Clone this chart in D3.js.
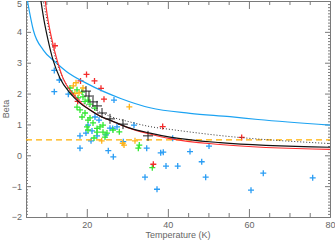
<!DOCTYPE html>
<html>
<head>
<meta charset="utf-8">
<script src="https://cdn.jsdelivr.net/npm/d3@7"></script>
<style>
  body { margin: 0; background: #fff; }
  text { font-family: "Liberation Sans", Arial, sans-serif; }
</style>
</head>
<body>
<div id="chart"></div>
<script>
// fitted curves as [T, beta]
var blueCurve = [[5.32, 5.03], [6.8, 4.06], [9.27, 3.41], [12.15, 3.03], [15.04, 2.71], [19.97, 2.33],
    [28.19, 1.85], [35.59, 1.54], [45.46, 1.36], [55.33, 1.25], [62.24, 1.16], [80, 0.98]];
var blackCurve = [[8.63, 5.05], [9.44, 4.38], [10.43, 3.74], [11.66, 3.09], [13.39, 2.5], [15.85, 2.02],
    [18.32, 1.69], [20.79, 1.47], [23.26, 1.27], [25.72, 1.14], [30.66, 0.88], [35.59, 0.72],
    [40.52, 0.59], [52.86, 0.41], [80, 0.26]];
var redCurve = [[9.69, 5.05], [10.43, 4.38], [11.41, 3.74], [12.65, 3.09], [14.13, 2.5], [16.35, 2.02],
    [18.82, 1.66], [21.28, 1.43], [23.75, 1.24], [26.22, 1.11], [30.66, 0.87], [35.59, 0.69],
    [40.52, 0.54], [52.86, 0.35], [80, 0.19]];
var dottedCurve = [[9.19, 5.05], [10.18, 4.38], [11.17, 3.74], [12.4, 3.09], [14.13, 2.5], [16.35, 2.05],
    [18.82, 1.73], [21.28, 1.53], [23.75, 1.37], [26.22, 1.24], [30.66, 1.08], [35.59, 0.93],
    [40.52, 0.84], [52.86, 0.64], [80, 0.38]];
var betaLevel = 0.5;

// measured points [T, beta]
var bluePts = [[11.98, 2.75], [13.22, 2.44], [11.98, 2.06], [15.44, 1.98], [18.32, 0.63], [18.32, 0.23],
    [25.3, 0.15], [26.54, -0.05], [29.0, 0.44], [34.78, 0.23], [38.23, 0.08], [38.87, 0.1],
    [45.46, 0.12], [48.35, -0.21], [50.15, 0.3], [39.54, -0.35], [42.43, -0.35], [34.36, -0.71],
    [49.33, -0.71], [37.32, -1.1], [41.19, 0.55], [31.64, 0.98], [26.39, 0.87], [63.54, -0.58],
    [60.51, -1.13], [75.73, -0.73], [26.71, 1.79], [24.74, 0.66], [20.3, 0.98], [21.28, 0.79],
    [22.52, 0.63], [23.01, 1.14], [22.02, 1.24], [19.8, 0.72], [21.04, 0.47], [25.72, 0.88],
    [27.45, 0.92]];
var greenPts = [[15.86, 2.18], [16.35, 2.02], [17.58, 2.12], [18.82, 2.05], [19.06, 1.89], [20.3, 1.79],
    [17.58, 1.56], [18.32, 1.47], [19.56, 1.37], [18.82, 1.24], [20.79, 1.21], [21.53, 1.05],
    [20.05, 0.92], [23.26, 0.92], [22.52, 0.75], [24.0, 0.75], [24.49, 0.59], [20.3, 1.14],
    [20.3, 0.82], [22.52, 0.87], [24.98, 0.72], [24.0, 0.98], [26.46, 0.82], [28.02, 0.76],
    [32.95, 0.33], [32.71, 0.23], [36.16, -0.4], [20.79, 1.66], [22.02, 1.53], [19.56, 1.75],
    [17.83, 1.86], [21.78, 0.56]];
var orangePts = [[30.49, 1.57], [28.86, 0.39], [31.89, 0.47], [29.18, 0.33], [17.34, 2.35], [16.67, 2.25],
    [19.06, 2.18], [18.08, 2.02], [17.09, 2.0], [23.68, 0.47]];
var redPts = [[12.15, 3.55], [19.93, 2.62], [21.9, 2.41], [18.45, 2.41], [23.5, 2.17], [24.24, 1.82],
    [38.72, 0.93], [36.41, -0.29], [58.21, 0.58], [17.75, 1.75]];
var blackPts = [[19.8, 2.08], [20.54, 1.92], [21.53, 1.73], [22.52, 1.6], [23.75, 1.37], [25.72, 1.18],
    [28.93, 1.01], [35.1, 0.63]];

var xMajor = [20, 40, 60, 80];
var yMajor = [-2, -1, 0, 1, 2, 3, 4, 5];

var width = 335, height = 240;
var margin = {top: 1, right: 5, bottom: 23, left: 26};
var axisColor = "#7a7a7a";

var svg = d3.select("#chart").append("svg")
    .attr("width", width)
    .attr("height", height);

var x = d3.scaleLinear().domain([5, 80]).range([margin.left, width - margin.right]);
var y = d3.scaleLinear().domain([-2, 5]).range([height - margin.bottom, margin.top]);

svg.append("clipPath").attr("id", "plot")
    .append("rect")
    .attr("x", x(5)).attr("y", y(5))
    .attr("width", x(80) - x(5)).attr("height", y(-2) - y(5));

var xMinor = d3.range(5, 80.01, 5).filter(function (d) { return xMajor.indexOf(d) < 0; });
var yMinor = d3.range(-20, 50.5, 1).map(function (d) { return d / 10; })
    .filter(function (d) { return yMajor.indexOf(d) < 0; });

// axes, ticks pointing inward on all four sides
var drawAxis = function (axisFn, scale, pos, vals, size, labels) {
    var g = svg.append("g")
        .attr("transform", pos)
        .call(axisFn(scale).tickValues(vals).tickSizeInner(-size).tickSizeOuter(0)
            .tickPadding(5)
            .tickFormat(labels ? function (d) { return d < 0 ? "\u2212" + Math.abs(d) : d; } : ""));
    g.select(".domain").attr("stroke", axisColor);
    g.selectAll(".tick line").attr("stroke", axisColor);
    g.selectAll(".tick text").attr("fill", "#666").attr("font-size", 9);
    return g;
};

drawAxis(d3.axisBottom, x, "translate(0," + y(-2) + ")", xMinor, 4, false);
drawAxis(d3.axisBottom, x, "translate(0," + y(-2) + ")", xMajor, 8, true);
drawAxis(d3.axisTop, x, "translate(0," + y(5) + ")", xMinor, 4, false);
drawAxis(d3.axisTop, x, "translate(0," + y(5) + ")", xMajor, 8, false);
drawAxis(d3.axisLeft, y, "translate(" + x(5) + ",0)", yMinor, 2, false);
var yLabels = drawAxis(d3.axisLeft, y, "translate(" + x(5) + ",0)", yMajor, 5, true);
yLabels.selectAll(".tick text").attr("x", -4);
// top label would stick out of the window, nudge it down like the original
yLabels.selectAll(".tick text").filter(function (d) { return d === 5; }).attr("y", 3);
drawAxis(d3.axisRight, y, "translate(" + x(80) + ",0)", yMinor, 2, false);
drawAxis(d3.axisRight, y, "translate(" + x(80) + ",0)", yMajor, 5, false);

svg.append("text")
    .attr("x", (x(5) + x(80)) / 2).attr("y", height - 2)
    .attr("text-anchor", "middle").attr("font-size", 9).attr("fill", "#666")
    .text("Temperature (K)");
svg.append("text")
    .attr("transform", "translate(9," + (y(1.5)) + ") rotate(-90)")
    .attr("text-anchor", "middle").attr("font-size", 9).attr("fill", "#666")
    .text("Beta");

var plot = svg.append("g").attr("clip-path", "url(#plot)");

var cross = function (pts, color, arm, sw) {
    plot.append("g").selectAll("path")
        .data(pts).enter().append("path")
        .attr("d", function (d) {
            var cx = x(d[0]), cy = y(d[1]);
            return "M" + (cx - arm) + "," + cy + "H" + (cx + arm) + "M" + cx + "," + (cy - arm) + "V" + (cy + arm);
        })
        .attr("stroke", color)
        .attr("stroke-width", sw)
        .attr("fill", "none");
};

cross(bluePts, "#2a9df4", 3, 1.3);
cross(greenPts, "#33e833", 3, 1.3);
cross(orangePts, "#ffb31a", 3, 1.3);
cross(redPts, "#f42a2a", 3, 1.3);

var line = d3.line()
    .x(function (d) { return x(d[0]); })
    .y(function (d) { return y(d[1]); })
    .curve(d3.curveMonotoneX);

plot.append("line")
    .attr("x1", x(5)).attr("x2", x(80))
    .attr("y1", y(betaLevel)).attr("y2", y(betaLevel))
    .attr("stroke", "#ffb000").attr("stroke-width", 1.3)
    .attr("stroke-dasharray", "6,4");

plot.append("path").datum(blueCurve)
    .attr("d", line).attr("fill", "none").attr("stroke", "#1ca3f2").attr("stroke-width", 1.2);
plot.append("path").datum(dottedCurve)
    .attr("d", line).attr("fill", "none").attr("stroke", "#333").attr("stroke-width", 1)
    .attr("stroke-dasharray", "1,2");
plot.append("path").datum(redCurve)
    .attr("d", line).attr("fill", "none").attr("stroke", "#ff3030").attr("stroke-width", 1.2);
plot.append("path").datum(blackCurve)
    .attr("d", line).attr("fill", "none").attr("stroke", "#111").attr("stroke-width", 1.2);

cross(blackPts, "#222", 5, 1);
</script>
</body>
</html>
